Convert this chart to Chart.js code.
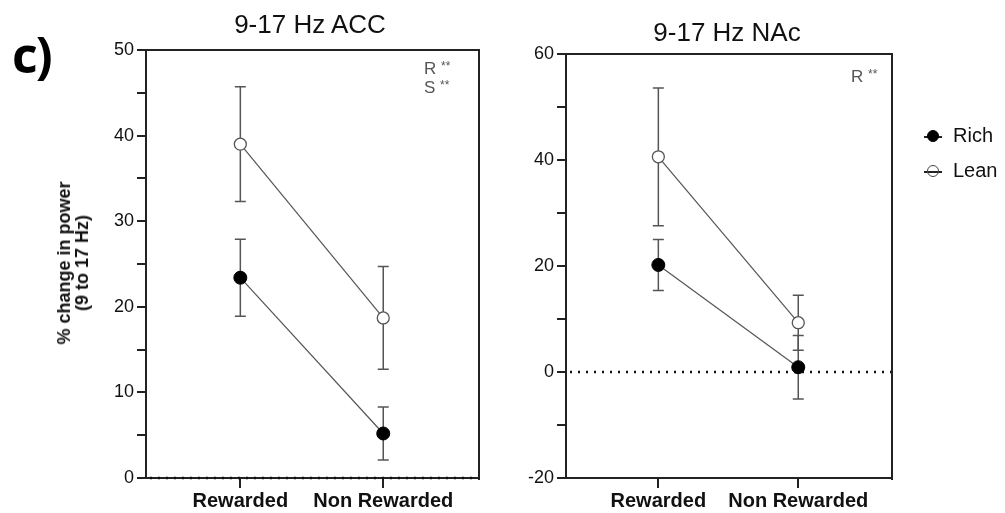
<!DOCTYPE html>
<html>
<head>
<meta charset="utf-8">
<script src="https://cdn.jsdelivr.net/npm/chart.js@4.4.1/dist/chart.umd.min.js"></script>
<style>
  body { margin: 0; background: #fff; }
  #wrap { position: relative; width: 1005px; height: 513px; overflow: hidden; font-family: "Liberation Sans", Arial, sans-serif; color: #222; }
  canvas { position: absolute; top: 0; }
  .txt { position: absolute; white-space: nowrap; line-height: 1; }
  .panel { font-family: "Open Sans", sans-serif; font-weight: 700; font-size: 50px; letter-spacing: -2px; left: 12px; top: 29px; color: #000; }
  .title { font-size: 26px; transform: translateX(-50%); color: #111; }
  .ylab { font-weight: 700; font-size: 18px; line-height: 18px; text-align: center; left: 73px; top: 263px; transform: translate(-50%, -50%) rotate(-90deg); color: #111; }
  .stat { font-size: 17px; color: #555; }
  .stat sup { font-size: 12px; vertical-align: 4px; }
  .legend { font-size: 20px; left: 922px; color: #111; }
  .legend span { display: inline-block; position: relative; width: 22px; height: 12px; margin-right: 9px; vertical-align: middle; }
  .legend span::before { content: ""; position: absolute; left: 2px; right: 2px; top: 5.5px; height: 1.5px; background: #222; }
  .legend span::after { content: ""; position: absolute; left: 5px; top: -0.5px; width: 10px; height: 10px; border-radius: 50%; }
  .rich span::after { background: #000; border: 1.5px solid #000; }
  .lean span::after { background: transparent; border: 1.5px solid #444; }
</style>
</head>
<body>
<div id="wrap">
  <canvas id="accChart" width="495" height="513" style="left:0;width:495px;height:513px"></canvas>
  <canvas id="nacChart" width="420" height="513" style="left:495px;width:420px;height:513px"></canvas>

  <div class="txt panel">c)</div>
  <div class="txt title" style="left:310px;top:11px">9-17 Hz ACC</div>
  <div class="txt title" style="left:727px;top:19px">9-17 Hz NAc</div>
  <div class="txt ylab">% change in power<br>(9 to 17 Hz)</div>
  <div class="txt stat" style="left:424px;top:60px">R <sup>**</sup></div>
  <div class="txt stat" style="left:424px;top:79px">S <sup>**</sup></div>
  <div class="txt stat" style="left:851px;top:68px">R <sup>**</sup></div>
  <div class="txt legend rich" style="top:125px"><span></span>Rich</div>
  <div class="txt legend lean" style="top:160px"><span></span>Lean</div>
</div>

<script>
const categories = ['Rewarded', 'Non Rewarded'];

// ACC, mean and SEM per condition
const accRich = [23.4, 5.2];
const accRichSem = [4.5, 3.1];
const accLean = [39.0, 18.7];
const accLeanSem = [6.7, 6.0];
const accTicks = [0, 10, 20, 30, 40, 50];

// NAc, mean and SEM per condition
const nacRich = [20.2, 0.9];
const nacRichSem = [4.8, 6.0];
const nacLean = [40.6, 9.3];
const nacLeanSem = [13.0, 5.2];
const nacTicks = [-20, 0, 20, 40, 60];

const axisColor = '#222';
const lineColor = '#555';

function points(values) {
    return values.map((v, i) => ({ x: i, y: v }));
}

// error bars, dotted zero line and the top/right frame
const extrasPlugin = {
    id: 'extras',
    beforeDatasetsDraw(chart) {
        const { ctx, chartArea, scales } = chart;
        const x = scales.x, y = scales.y;

        ctx.save();
        ctx.strokeStyle = '#111';
        ctx.lineWidth = 2.5;
        ctx.setLineDash([2, 6]);
        const y0 = Math.round(y.getPixelForValue(0));
        ctx.beginPath();
        ctx.moveTo(chartArea.left + 4, y0);
        ctx.lineTo(chartArea.right, y0);
        ctx.stroke();
        ctx.restore();

        ctx.save();
        ctx.strokeStyle = lineColor;
        ctx.lineWidth = 1.5;
        chart.data.datasets.forEach(ds => {
            ds.sem.forEach((e, i) => {
                const px = x.getPixelForValue(i);
                const top = y.getPixelForValue(ds.data[i].y + e);
                const bot = y.getPixelForValue(ds.data[i].y - e);
                ctx.beginPath();
                ctx.moveTo(px, top);
                ctx.lineTo(px, bot);
                ctx.moveTo(px - 5.5, top);
                ctx.lineTo(px + 5.5, top);
                ctx.moveTo(px - 5.5, bot);
                ctx.lineTo(px + 5.5, bot);
                ctx.stroke();
            });
        });
        ctx.restore();
    },
    afterDraw(chart) {
        const { ctx, chartArea } = chart;
        ctx.save();
        ctx.strokeStyle = axisColor;
        ctx.lineWidth = 2;
        ctx.beginPath();
        ctx.moveTo(chartArea.left, chartArea.top);
        ctx.lineTo(chartArea.right, chartArea.top);
        ctx.lineTo(chartArea.right, chartArea.bottom + 2);
        ctx.stroke();
        ctx.restore();
    }
};

function makeChart(id, rich, richSem, lean, leanSem, yMin, yMax, step, labelled, pad, yWidth) {
    const ctx = document.getElementById(id).getContext('2d');
    return new Chart(ctx, {
        type: 'line',
        data: {
            datasets: [{
                label: 'Lean',
                data: points(lean),
                sem: leanSem,
                borderColor: lineColor,
                borderWidth: 1.2,
                pointStyle: 'circle',
                pointRadius: 6,
                pointBackgroundColor: '#fff',
                pointBorderColor: '#555',
                pointBorderWidth: 1.3
            }, {
                label: 'Rich',
                data: points(rich),
                sem: richSem,
                borderColor: lineColor,
                borderWidth: 1.2,
                pointStyle: 'circle',
                pointRadius: 6.5,
                pointBackgroundColor: '#000',
                pointBorderColor: '#000',
                pointBorderWidth: 1
            }]
        },
        options: {
            responsive: false,
            animation: false,
            layout: { padding: pad },
            plugins: { legend: { display: false }, tooltip: { enabled: false } },
            elements: { line: { tension: 0 } },
            clip: false,
            scales: {
                x: {
                    type: 'linear',
                    min: -0.66,
                    max: 1.67,
                    afterBuildTicks: scale => {
                        scale.ticks = categories.map((c, i) => ({ value: i }));
                    },
                    afterFit: scale => { scale.height = 35; },
                    ticks: {
                        autoSkip: false,
                        maxRotation: 0,
                        padding: 1,
                        color: '#111',
                        font: { family: 'Liberation Sans', size: 20, weight: 'bold' },
                        callback: v => categories[v]
                    },
                    grid: { drawOnChartArea: false, drawTicks: true, tickLength: 10, color: axisColor, lineWidth: 2 },
                    border: { display: true, color: axisColor, width: 2 }
                },
                y: {
                    min: yMin,
                    max: yMax,
                    afterFit: scale => { scale.width = yWidth; },
                    ticks: {
                        stepSize: step,
                        padding: 3,
                        color: '#111',
                        font: { family: 'Liberation Sans', size: 18 },
                        callback: v => labelled.includes(v) ? String(v) : ''
                    },
                    grid: { drawOnChartArea: false, drawTicks: true, tickLength: 9, color: axisColor, lineWidth: 2 },
                    border: { display: true, color: axisColor, width: 2 }
                }
            }
        },
        plugins: [extrasPlugin]
    });
}

makeChart('accChart', accRich, accRichSem, accLean, accLeanSem, 0, 50, 5, accTicks,
    { left: 0, top: 50, right: 16, bottom: 0 }, 146);
makeChart('nacChart', nacRich, nacRichSem, nacLean, nacLeanSem, -20, 60, 10, nacTicks,
    { left: 0, top: 54, right: 23, bottom: 0 }, 71);
</script>
</body>
</html>
